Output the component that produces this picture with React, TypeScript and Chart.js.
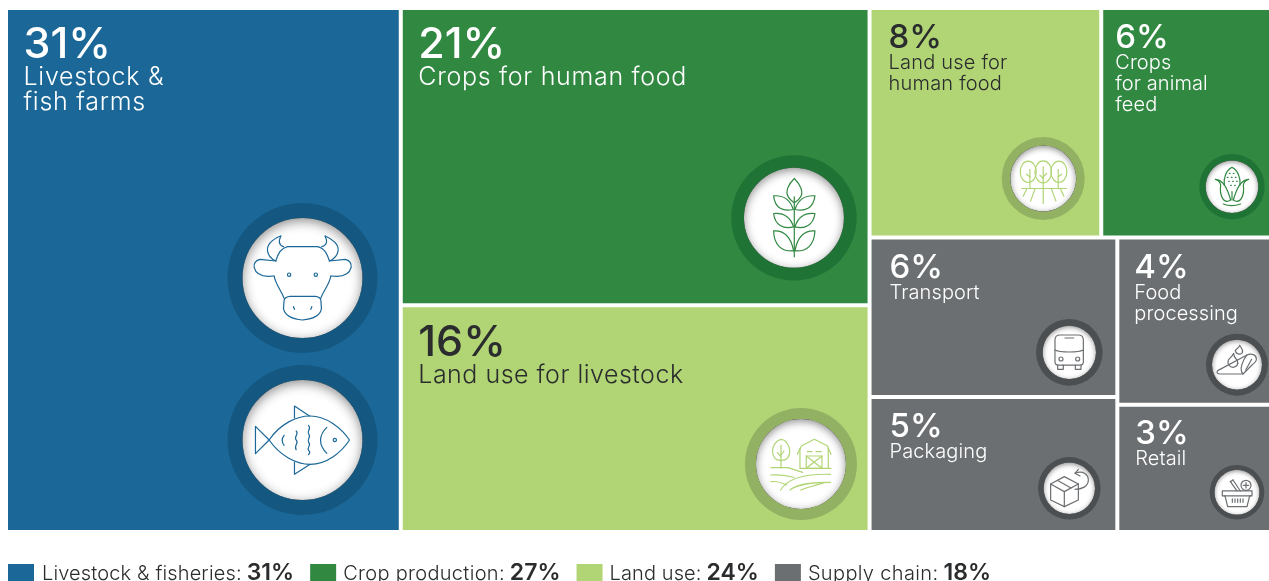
import { useEffect, useRef } from "react";
import { Chart, registerables, DatasetController } from "chart.js";

/* ---------- data ---------- */
const categories = [
  "Livestock & fish farms",
  "Crops for human food",
  "Land use for livestock",
  "Land use for human food",
  "Crops for animal feed",
  "Transport",
  "Packaging",
  "Food processing",
  "Retail",
];
const shares = [31, 21, 16, 8, 6, 6, 5, 4, 3];
const cellGroups = [0, 1, 2, 2, 1, 3, 3, 3, 3];
const groupNames = ["Livestock & fisheries", "Crop production", "Land use", "Supply chain"];
const cellLines = [
  ["Livestock &", "fish farms"],
  ["Crops for human food"],
  ["Land use for livestock"],
  ["Land use for", "human food"],
  ["Crops", "for animal", "feed"],
  ["Transport"],
  ["Packaging"],
  ["Food", "processing"],
  ["Retail"],
];
// alternating slice-and-dice nesting of category indexes
const nesting: any = [0, [1, 2], [[3, 4], [[5, 6], [7, 8]]]];

/* ---------- styles ---------- */
const groupColors = ["#1b6898", "#318841", "#b1d574", "#6b6f71"];
const ringColors = ["#145882", "#1f7334", "#93b163", "#4b4f51"];
const textColors = ["#ffffff", "#ffffff", "#2a2c2e", "#ffffff"];
const legendTracking = [0.14, 0.32, 0.1, 0.35];
const FONT = '"Inter", "Noto Sans", sans-serif';
const GAP = 4;
// [pad left, pct baseline, label first baseline offset, line height, pct size, label size, label tracking]
const textStyle = [
  [15.5, 48, 27, 25, 43, 25, 0.75],
  [15.5, 48, 27, 25, 43, 25, 0.7],
  [15.5, 49, 27, 25, 43, 25, 0.5],
  [17, 38, 21, 21, 33, 20, 0.2],
  [12, 38, 21, 21, 33, 20, 0.1],
  [18, 38, 21, 21, 33, 20, 0.1],
  [18, 38, 21, 21, 33, 20, 0.1],
  [15, 38, 21, 21, 33, 20, 0.1],
  [16, 37.5, 21, 21, 33, 20, 0.1],
];

type Icon = {
  cell: number; right: number; bottom: number; outer: number; inner: number;
  ox: number; oy: number; zr: number; paths: string[];
};
const circle = (x: number, y: number, r: number) =>
  `M${x + r} ${y} A${r} ${r} 0 1 0 ${x - r} ${y} A${r} ${r} 0 1 0 ${x + r} ${y} Z`;

const icons: Icon[] = [
  { cell: 0, right: 96.3, bottom: 252, outer: 75, inner: 60, ox: 307, oy: 264, zr: 180, paths: [
    "M242 138 C215 148 200 165 202 182 C204 196 215 208 227 213 C232 195 240 175 262 170 L352 170 C375 175 382 195 388 213 C400 208 412 196 414 182 C416 165 400 148 375 138",
    "M242 138 C236 152 234 164 250 170", "M375 138 C381 152 383 164 365 170",
    "M227 213 L180 208 Q160 212 162 232 Q168 258 205 259 L222 258",
    "M388 213 L435 208 Q455 212 453 232 Q447 258 410 259 L392 258",
    "M222 258 C225 280 245 305 252 325", "M392 258 C390 280 368 305 362 325",
    "M252 330 Q255 320 270 319 L345 319 Q360 320 362 330 L364 355 Q360 385 307 390 Q255 385 250 355 Z",
    circle(267, 254, 5), circle(347, 254, 5), "M280 350 L283 358", "M335 350 L332 358",
  ] },
  { cell: 0, right: 96.3, bottom: 90, outer: 75, inner: 60, ox: 307, oy: 749, zr: 180, paths: [
    "M207 749 C240 700 290 677 330 677 C380 677 425 715 448 749 C425 785 380 822 330 822 C290 822 240 797 207 749 Z",
    "M207 749 L166 708 L166 790 Z", "M283 683 L283 647 L328 677", "M283 815 L283 852 L330 822",
    circle(404, 749, 5), "M380 711 C355 735 355 765 380 789",
    "M325 705 C335 715 320 722 325 730 C335 740 320 745 325 755 C335 765 320 770 325 780 C332 785 328 790 325 793",
    "M288 722 C298 730 280 738 288 749 C298 758 280 765 288 778", "M252 735 C244 745 244 755 252 765",
  ] },
  { cell: 1, right: 73.6, bottom: 85.3, outer: 62.7, inner: 50, ox: 282, oy: 263, zr: 150, paths: [
    "M283 145 C265 162 255 185 265 200 C272 212 280 215 283 218 C286 215 296 212 302 200 C312 185 300 162 283 145 Z",
    "M283 200 L283 380",
    "M221 197 C250 195 270 207 280 238 C250 245 225 235 221 197 Z", "M345 197 C315 195 295 207 285 238 C315 245 340 235 345 197 Z",
    "M221 250 C250 247 270 258 281 290 C250 298 225 285 221 250 Z", "M345 250 C315 247 295 258 285 290 C315 298 340 285 345 250 Z",
    "M221 302 C250 300 272 315 281 362 C245 365 222 345 221 302 Z", "M345 302 C315 300 293 315 285 362 C320 365 343 345 345 302 Z",
  ] },
  { cell: 2, right: 66.6, bottom: 66, outer: 56, inner: 45, ox: 243, oy: 207, zr: 135, paths: [
    "M183 133 C160 140 150 170 165 190 C172 198 195 198 202 190 C218 170 205 135 183 133 Z",
    "M183 150 L183 218", "M183 185 L172 172", "M183 180 L192 168",
    "M232 178 L245 152 L283 133 L322 152 L333 178", "M240 160 L240 220", "M325 160 L325 220",
    "M262 170 L276 170", "M288 170 L304 170",
    "M259 183 H306 V220 H259 Z", "M259 183 L306 220", "M306 183 L259 220",
    "M153 218 L205 218", "M240 220 L333 220",
    "M205 218 C225 225 240 230 248 232", "M152 240 C185 238 205 243 222 247", "M153 260 C170 258 190 265 200 270",
    "M182 285 C200 255 240 235 332 238", "M210 285 C235 265 280 262 332 262", "M242 285 C265 275 290 272 312 262",
  ] },
  { cell: 3, right: 56, bottom: 57, outer: 41.5, inner: 33, ox: 160, oy: 175, zr: 99, paths: [
    "M91 155 C91 137 102 123 115 123 C128 123 139 137 139 155 C139 173 128 187 115 187 C102 187 91 173 91 155 Z",
    "M135 155 C135 137 146 122 160 122 C174 122 185 137 185 155 C185 173 174 188 160 188 C146 188 135 173 135 155 Z",
    "M183 155 C183 137 194 123 207 123 C220 123 231 137 231 155 C231 173 220 187 207 187 C194 187 183 173 183 155 Z",
    "M120 148 L120 205", "M160 140 L160 250", "M205 148 L205 205",
    "M120 170 L110 162", "M160 175 L150 165", "M160 170 L170 160", "M205 170 L215 162",
    "M95 205 H230", "M135 207 L122 243", "M185 207 L198 243", "M110 207 L100 228", "M212 207 L222 228",
  ] },
  { cell: 4, right: 43, bottom: 48.8, outer: 32.7, inner: 26.3, ox: 726, oy: 200, zr: 79, paths: [
    "M726 142 C708 150 700 175 703 195", "M726 142 C744 150 752 175 750 195",
    "M676 178 C700 180 712 205 722 240 C700 255 688 225 692 195 C690 185 684 180 676 178 Z",
    "M776 178 C752 180 740 205 730 240 C752 255 764 225 760 195 C762 185 768 180 776 178 Z",
    "M700 252 C715 258 735 258 752 252", "M726 215 L726 240",
    "M718 160 h2", "M730 160 h2", "M712 172 h2", "M724 172 h2", "M736 172 h2", "M716 184 h2", "M728 184 h2", "M740 184 h2", "M722 196 h2", "M734 196 h2",
  ] },
  { cell: 5, right: 46, bottom: 42.7, outer: 33.3, inner: 26.7, ox: 148, oy: 127, zr: 80, paths: [
    "M120 75 H175 Q190 75 190 90 V155 Q190 165 180 165 H115 Q105 165 105 155 V90 Q105 75 120 75 Z",
    "M105 120 C120 128 175 128 190 120", "M135 84 H161", circle(123, 147, 6), circle(173, 147, 6),
    "M113 165 V178 H130 V165", "M166 165 V178 H183 V165",
  ] },
  { cell: 6, right: 46, bottom: 41.7, outer: 31.3, inner: 25.7, ox: 148, oy: 535, zr: 77, paths: [
    "M92 522 L133 500 L175 522 L175 570 L133 590 L92 570 Z", "M92 522 L133 545 L175 522", "M133 545 L133 590", "M112 511 L153 534",
    "M175 478 L165 490 L180 498", "M165 490 C190 480 205 495 205 510 C205 530 185 538 165 538",
  ] },
  { cell: 7, right: 38, bottom: 38, outer: 31, inner: 25, ox: 650, oy: 164, zr: 75, paths: [
    "M592 182 L680 135 C690 130 706 132 708 145 C710 155 700 160 695 165 L668 192 L600 192 C590 192 588 186 592 182 Z",
    "M680 135 C668 150 655 178 668 192", "M694 148 L676 180",
    "M624 150 C620 162 628 172 638 172 C650 172 656 160 650 150 C646 146 640 142 640 130 C636 140 628 144 624 150 Z",
    "M645 122 C646 132 660 136 666 128 C670 120 664 116 658 106 C656 114 648 116 645 122 Z",
  ] },
  { cell: 8, right: 38, bottom: 37.7, outer: 27.3, inner: 22.5, ox: 650, oy: 547, zr: 67.5, paths: [
    "M606 543 H695 V558 H688 L680 590 H622 L614 558 H606 Z", "M612 558 H690",
    "M636 567 V577", "M644 567 V577", "M652 567 V577", "M660 567 V577", "M668 567 V577",
    "M630 515 L650 543", "M638 510 L660 543", "M630 515 L638 510", circle(677, 526, 15), "M669 526 H685", "M677 518 V534",
  ] },
];

/* ---------- layout from values ---------- */
const sumNode = (n: any, vals: number[]): number =>
  Array.isArray(n) ? n.reduce((s: number, c: any) => s + sumNode(c, vals), 0) : vals[n];

type Box = { x0: number; x1: number; y0: number; y1: number };
function slice(n: any, vals: number[], box: Box, horizontal: boolean, out: Box[]) {
  if (!Array.isArray(n)) { out[n] = box; return; }
  const total = sumNode(n, vals);
  let at = horizontal ? box.x0 : box.y0;
  const span = horizontal ? box.x1 - box.x0 : box.y1 - box.y0;
  for (const c of n) {
    const step = (sumNode(c, vals) / total) * span;
    const b = horizontal ? { ...box, x0: at, x1: at + step } : { ...box, y0: at, y1: at + step };
    slice(c, vals, b, !horizontal, out);
    at += step;
  }
}

/* ---------- treemap controller drawing library bar elements ---------- */
const noSkip = { top: false, left: false, bottom: false, right: false };
const inset = (edge: number) => (edge > 0.001 && edge < 99.999 ? GAP / 2 : 0);
class TreemapController extends (DatasetController as any) {
  static id = "treemap";
  static defaults = { dataElementType: "bar", dataElementOptions: ["backgroundColor", "borderWidth", "borderColor", "borderSkipped", "borderRadius"] };
  static overrides = { scales: { x: { type: "linear" }, y: { type: "linear" } } };
  update(mode: any) {
    const meta = (this as any)._cachedMeta;
    (this as any).updateElements(meta.data, 0, meta.data.length, mode);
  }
  updateElements(elements: any[], start: number, count: number, mode: any) {
    const meta = (this as any)._cachedMeta;
    const vals = meta._parsed.map((p: any) => p.y);
    const boxes: Box[] = [];
    slice(nesting, vals, { x0: 0, x1: 100, y0: 0, y1: 100 }, true, boxes);
    for (let i = start; i < start + count; i++) {
      const b = boxes[i];
      const l = meta.xScale.getPixelForValue(b.x0) + inset(b.x0);
      const r = meta.xScale.getPixelForValue(b.x1) - inset(b.x1);
      const t = meta.yScale.getPixelForValue(b.y0) + inset(b.y0);
      const bt = meta.yScale.getPixelForValue(b.y1) - inset(b.y1);
      (this as any).updateElement(elements[i], i, {
        x: (l + r) / 2, y: t, base: bt, width: r - l, height: bt - t,
        horizontal: false, inflateAmount: 0, borderSkipped: noSkip, enableBorderRadius: false,
        options: (this as any).resolveDataElementOptions(i, mode),
      }, mode);
    }
  }
}

function cellRect(el: any) {
  return { l: el.x - el.width / 2, r: el.x + el.width / 2, t: el.y, b: el.base };
}

const labelsPlugin = {
  id: "cellLabels",
  afterDatasetsDraw(chart: any) {
    const ctx: any = chart.ctx;
    const els = chart.getDatasetMeta(0).data;
    const vals = chart.data.datasets[0].data as number[];
    ctx.save();
    ctx.textAlign = "left";
    ctx.textBaseline = "alphabetic";
    els.forEach((el: any, i: number) => {
      const { l, t } = cellRect(el);
      const [pad, pctY, lblY, lh, pctSize, lblSize, track] = textStyle[i];
      ctx.fillStyle = textColors[cellGroups[i]];
      ctx.letterSpacing = "0px";
      ctx.font = `500 ${pctSize}px ${FONT}`;
      ctx.fillText(`${vals[i]}%`, l + pad, t + pctY);
      ctx.letterSpacing = `${track}px`;
      ctx.font = `300 ${lblSize}px ${FONT}`;
      cellLines[i].forEach((line, k) => ctx.fillText(line, l + pad, t + pctY + lblY + k * lh));
    });
    ctx.restore();
    // icons
    icons.forEach((ic) => {
      const { r, b } = cellRect(els[ic.cell]);
      const cx = r - ic.right, cy = b - ic.bottom;
      const g = cellGroups[ic.cell];
      ctx.save();
      ctx.fillStyle = ringColors[g];
      ctx.beginPath(); ctx.arc(cx, cy, ic.outer, 0, Math.PI * 2); ctx.fill();
      ctx.fillStyle = "#ffffff";
      ctx.beginPath(); ctx.arc(cx, cy, ic.inner, 0, Math.PI * 2); ctx.fill();
      ctx.clip();
      ctx.shadowColor = "rgba(0,0,0,0.45)";
      ctx.shadowBlur = ic.inner * 0.2;
      ctx.shadowOffsetY = ic.inner * 0.05;
      ctx.strokeStyle = "#000";
      ctx.lineWidth = 20;
      ctx.beginPath(); ctx.arc(cx, cy, ic.inner + 10, 0, Math.PI * 2); ctx.stroke();
      ctx.restore();
      ctx.save();
      const s = ic.inner / ic.zr;
      ctx.translate(cx, cy);
      ctx.scale(s, s);
      ctx.translate(-ic.ox, -ic.oy);
      ctx.strokeStyle = groupColors[g];
      ctx.lineWidth = 1.2 / s;
      ctx.lineJoin = "round";
      ctx.lineCap = "round";
      ic.paths.forEach((p) => ctx.stroke(new Path2D(p)));
      ctx.restore();
    });
    // legend: swatch, regular name, bold total
    const legendTotals = groupNames.map((_, g) =>
      vals.reduce((s, v, i) => (cellGroups[i] === g ? s + v : s), 0));
    ctx.save();
    let x = 8;
    const base = 580;
    groupNames.forEach((name, g) => {
      ctx.fillStyle = groupColors[g];
      ctx.fillRect(x, 564, 26, 20);
      x += g === 0 ? 34 : 33;
      ctx.fillStyle = "#2a2c2e";
      ctx.letterSpacing = `${legendTracking[g]}px`;
      ctx.font = `300 20px ${FONT}`;
      const head = `${name}:`;
      ctx.fillText(head, x, base);
      x += ctx.measureText(head).width + 5;
      ctx.letterSpacing = "0px";
      ctx.font = `600 23px ${FONT}`;
      const tail = `${legendTotals[g]}%`;
      ctx.fillText(tail, x, base);
      x += ctx.measureText(tail).width + 16;
    });
    ctx.restore();
  },
};

Chart.register(...registerables, TreemapController as any);

export default function App() {
  const ref = useRef<HTMLCanvasElement>(null);
  useEffect(() => {
    const chart = new Chart(ref.current!, {
      type: "treemap" as any,
      data: {
        labels: categories,
        datasets: [{
          label: "Share of food emissions",
          data: shares,
          backgroundColor: cellGroups.map((g) => groupColors[g]),
          borderWidth: 0,
        }],
      },
      options: {
        responsive: false,
        animation: false,
        layout: { padding: { left: 8, top: 10, right: 0, bottom: 51 } },
        scales: {
          x: { type: "linear", min: 0, max: 100, display: false },
          y: { type: "linear", min: 0, max: 100, reverse: true, display: false },
        },
        plugins: { legend: { display: false }, tooltip: { enabled: false } },
      },
      plugins: [labelsPlugin],
    } as any);
    return () => chart.destroy();
  }, []);
  return (
    <div style={{ position: "fixed", left: 0, top: 0, width: 1269, height: 581, overflow: "hidden", background: "#fff" }}>
      <canvas ref={ref} width={1275} height={581} style={{ display: "block" }} />
    </div>
  );
}
